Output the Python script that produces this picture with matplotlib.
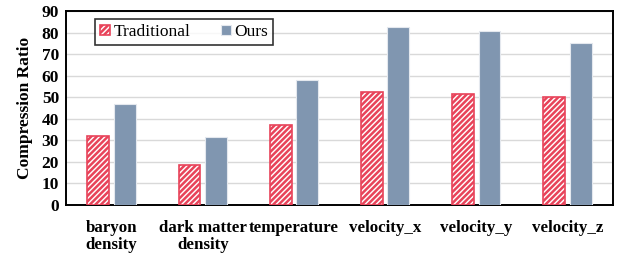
import numpy as np
import matplotlib
matplotlib.use('Agg')
import matplotlib.pyplot as plt

# datos
categorias = ['baryon\ndensity', 'dark matter\ndensity', 'temperature',
              'velocity_x', 'velocity_y', 'velocity_z']
tradicional = [32.0, 18.4, 37.2, 52.6, 51.6, 50.2]
nuestro = [46.7, 31.7, 58.1, 82.6, 80.6, 75.3]

plt.rcParams['font.family'] = ['Liberation Serif', 'DejaVu Serif']
plt.rcParams['hatch.linewidth'] = 1.8

fig = plt.figure(figsize=(6.22, 2.56), dpi=100)
ax = fig.add_axes([66/622, 1 - 205/256, 547/622, 194/256])

x = np.arange(len(categorias))
w = 0.24
ax.bar(x - 0.145, tradicional, w, color='white', edgecolor='#E8435A',
       hatch='//////', linewidth=1.2, label='Traditional', zorder=3)
ax.bar(x + 0.145, nuestro, w, color='#8096B0', edgecolor='#E4E8EE',
       linewidth=0.8, label='Ours', zorder=3)

ax.set_xlim(-0.5, len(categorias) - 0.5)
ax.set_ylim(0, 90)
ax.set_yticks(np.arange(0, 91, 10))
ax.set_xticks(x)
ax.set_xticklabels(categorias, fontsize=12.2, fontweight='bold', linespacing=1.05)
ax.tick_params(axis='x', length=0, pad=11)
ax.tick_params(axis='y', length=0, pad=5, labelsize=12.5)
for t in ax.get_yticklabels():
    t.set_fontweight('bold')
ax.yaxis.grid(True, color='#D9D9D9', linewidth=1.0, zorder=0)
ax.set_axisbelow(True)
for s in ax.spines.values():
    s.set_linewidth(1.4)
    s.set_color('black')

ax.set_ylabel('Compression Ratio', fontsize=12.5, fontweight='bold', labelpad=6)

# leyenda arriba a la izquierda con marco negro
leg = ax.legend(loc='upper left', bbox_to_anchor=(29/547, 1 - 8/194), ncol=2,
                fontsize=12.5, frameon=True, fancybox=False, edgecolor='black',
                handlelength=0.55, handleheight=0.55, handletextpad=0.2,
                columnspacing=1.8, borderpad=0.3, borderaxespad=0)
leg.get_frame().set_linewidth(1.2)

fig.savefig('out.png', dpi=100)
